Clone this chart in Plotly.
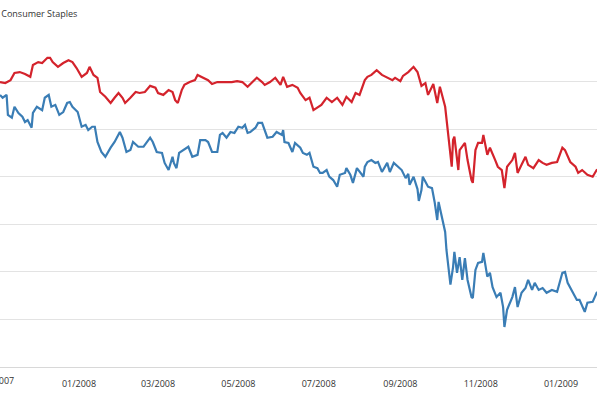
import plotly.graph_objects as go

# --- data -------------------------------------------------------------
staples_dates = [
    "2007-11-02", "2007-11-06", "2007-11-10", "2007-11-13", "2007-11-17", "2007-11-21", "2007-11-25",
    "2007-11-27", "2007-12-01", "2007-12-04", "2007-12-08", "2007-12-10", "2007-12-12", "2007-12-16",
    "2007-12-20", "2007-12-24", "2007-12-27", "2007-12-30", "2008-01-03", "2008-01-07", "2008-01-09",
    "2008-01-12", "2008-01-15", "2008-01-17", "2008-01-21", "2008-01-25", "2008-01-28", "2008-01-31",
    "2008-02-03", "2008-02-05", "2008-02-09", "2008-02-13", "2008-02-16", "2008-02-20", "2008-02-24",
    "2008-02-28", "2008-03-01", "2008-03-05", "2008-03-09", "2008-03-12", "2008-03-14", "2008-03-16",
    "2008-03-19", "2008-03-21", "2008-03-25", "2008-03-29", "2008-03-31", "2008-04-04", "2008-04-08",
    "2008-04-11", "2008-04-15", "2008-04-19", "2008-04-22", "2008-04-26", "2008-04-30", "2008-05-04",
    "2008-05-08", "2008-05-11", "2008-05-15", "2008-05-19", "2008-05-21", "2008-05-25", "2008-05-29",
    "2008-06-02", "2008-06-04", "2008-06-07", "2008-06-11", "2008-06-15", "2008-06-17", "2008-06-21",
    "2008-06-24", "2008-06-27", "2008-06-30", "2008-07-03", "2008-07-07", "2008-07-11", "2008-07-15",
    "2008-07-19", "2008-07-22", "2008-07-26", "2008-07-29", "2008-08-01", "2008-08-05", "2008-08-07",
    "2008-08-10", "2008-08-14", "2008-08-18", "2008-08-22", "2008-08-26", "2008-08-28", "2008-09-01",
    "2008-09-03", "2008-09-07", "2008-09-11", "2008-09-14", "2008-09-17", "2008-09-20", "2008-09-22",
    "2008-09-26", "2008-09-29", "2008-10-01", "2008-10-05", "2008-10-07", "2008-10-09", "2008-10-10",
    "2008-10-11", "2008-10-12", "2008-10-15", "2008-10-16", "2008-10-20", "2008-10-22", "2008-10-25",
    "2008-10-26", "2008-10-28", "2008-10-30", "2008-11-02", "2008-11-03", "2008-11-06", "2008-11-08",
    "2008-11-12", "2008-11-14", "2008-11-17", "2008-11-19", "2008-11-21", "2008-11-25", "2008-11-27",
    "2008-11-29", "2008-12-02", "2008-12-05", "2008-12-07", "2008-12-11", "2008-12-15", "2008-12-18",
    "2008-12-21", "2008-12-25", "2008-12-29", "2009-01-02", "2009-01-04", "2009-01-08", "2009-01-12",
    "2009-01-14", "2009-01-17", "2009-01-21", "2009-01-25", "2009-01-28", "2009-02-01",
]
staples_values = [
    99.9, 99.7, 100.3, 101.8, 102.0, 101.6, 101.0,
    103.5, 104.1, 103.9, 105.0, 105.0, 104.1, 103.1,
    103.9, 104.5, 104.1, 102.9, 101.0, 101.8, 103.1,
    101.4, 100.8, 97.8, 96.8, 95.5, 96.6, 97.6,
    96.6, 95.5, 96.6, 97.8, 97.6, 97.8, 99.1,
    98.7, 97.6, 97.2, 98.2, 97.8, 96.1, 95.5,
    98.2, 99.3, 99.9, 100.3, 101.4, 100.8, 100.3,
    99.5, 99.9, 99.9, 99.9, 99.9, 100.1, 99.9,
    98.9, 99.7, 100.8, 99.9, 99.3, 99.9, 100.8,
    99.3, 101.0, 98.9, 99.3, 98.7, 97.6, 96.1,
    96.6, 94.0, 94.5, 95.1, 96.6, 95.7, 96.6,
    95.1, 96.8, 95.7, 97.6, 97.2, 100.3, 101.0,
    101.4, 102.4, 101.4, 100.8, 100.3, 100.8, 100.1,
    101.2, 102.0, 103.1, 102.0, 99.1, 99.7, 97.2,
    99.5, 95.5, 98.9, 94.7, 89.8, 84.2, 82.1,
    87.7, 88.4, 81.4, 85.6, 87.1, 83.5, 79.3,
    78.7, 85.6, 87.1, 87.1, 88.8, 84.6, 86.1,
    83.5, 82.1, 81.4, 77.6, 82.1, 83.5, 85.0,
    80.8, 82.5, 84.2, 82.5, 81.8, 83.5, 82.9,
    82.5, 82.9, 83.1, 86.1, 85.6, 83.1, 82.1,
    80.8, 81.4, 80.4, 80.0, 81.4, 81.8,
]

sp500_dates = [
    "2007-11-02", "2007-11-04", "2007-11-07", "2007-11-08", "2007-11-11", "2007-11-13", "2007-11-16",
    "2007-11-19", "2007-11-21", "2007-11-23", "2007-11-26", "2007-11-27", "2007-11-30", "2007-12-04",
    "2007-12-06", "2007-12-09", "2007-12-11", "2007-12-14", "2007-12-17", "2007-12-20", "2007-12-23",
    "2007-12-25", "2007-12-27", "2007-12-31", "2008-01-03", "2008-01-06", "2008-01-08", "2008-01-11",
    "2008-01-13", "2008-01-15", "2008-01-18", "2008-01-21", "2008-01-25", "2008-01-28", "2008-02-01",
    "2008-02-03", "2008-02-06", "2008-02-09", "2008-02-11", "2008-02-15", "2008-02-19", "2008-02-22",
    "2008-02-24", "2008-02-26", "2008-02-29", "2008-03-04", "2008-03-06", "2008-03-09", "2008-03-12",
    "2008-03-13", "2008-03-15", "2008-03-17", "2008-03-20", "2008-03-24", "2008-03-27", "2008-03-31",
    "2008-04-02", "2008-04-06", "2008-04-08", "2008-04-11", "2008-04-15", "2008-04-17", "2008-04-19",
    "2008-04-22", "2008-04-25", "2008-04-28", "2008-05-01", "2008-05-04", "2008-05-06", "2008-05-08",
    "2008-05-10", "2008-05-14", "2008-05-16", "2008-05-19", "2008-05-23", "2008-05-27", "2008-05-30",
    "2008-06-03", "2008-06-04", "2008-06-05", "2008-06-08", "2008-06-11", "2008-06-13", "2008-06-17",
    "2008-06-19", "2008-06-22", "2008-06-24", "2008-06-27", "2008-06-30", "2008-07-02", "2008-07-04",
    "2008-07-07", "2008-07-09", "2008-07-12", "2008-07-15", "2008-07-17", "2008-07-21", "2008-07-22",
    "2008-07-25", "2008-07-27", "2008-07-30", "2008-08-03", "2008-08-04", "2008-08-05", "2008-08-07",
    "2008-08-10", "2008-08-13", "2008-08-15", "2008-08-18", "2008-08-22", "2008-08-24", "2008-08-27",
    "2008-08-30", "2008-09-02", "2008-09-05", "2008-09-07", "2008-09-08", "2008-09-11", "2008-09-14",
    "2008-09-15", "2008-09-17", "2008-09-18", "2008-09-22", "2008-09-25", "2008-09-27", "2008-09-29",
    "2008-09-30", "2008-10-03", "2008-10-05", "2008-10-06", "2008-10-08", "2008-10-09", "2008-10-11",
    "2008-10-12", "2008-10-14", "2008-10-16", "2008-10-18", "2008-10-20", "2008-10-22", "2008-10-25",
    "2008-10-26", "2008-10-28", "2008-10-30", "2008-11-02", "2008-11-03", "2008-11-06", "2008-11-08",
    "2008-11-10", "2008-11-13", "2008-11-16", "2008-11-18", "2008-11-19", "2008-11-21", "2008-11-25",
    "2008-11-27", "2008-11-29", "2008-12-02", "2008-12-05", "2008-12-07", "2008-12-10", "2008-12-12",
    "2008-12-15", "2008-12-18", "2008-12-21", "2008-12-25", "2008-12-29", "2009-01-02", "2009-01-04",
    "2009-01-06", "2009-01-10", "2009-01-13", "2009-01-15", "2009-01-19", "2009-01-21", "2009-01-25",
    "2009-01-28", "2009-02-01",
]
sp500_values = [
    97.2, 96.6, 97.2, 93.0, 92.4, 94.7, 93.4,
    92.6, 91.5, 91.9, 90.3, 93.4, 94.7, 94.0,
    96.6, 97.2, 94.7, 95.1, 93.0, 93.6, 95.5,
    95.7, 94.7, 93.6, 90.5, 90.9, 89.8, 90.5,
    90.5, 87.3, 85.2, 84.2, 86.1, 87.3, 89.4,
    88.2, 85.2, 85.6, 87.3, 86.3, 86.3, 87.3,
    88.2, 87.3, 85.2, 85.0, 82.9, 81.4, 84.2,
    82.9, 81.8, 85.0, 85.6, 86.3, 84.2, 84.6,
    87.7, 87.7, 87.3, 85.2, 85.2, 88.8, 89.2,
    88.2, 89.4, 89.2, 90.5, 90.3, 90.9, 89.2,
    89.4, 90.3, 91.3, 91.3, 88.2, 88.4, 89.4,
    88.8, 89.8, 87.3, 87.1, 85.2, 87.1, 86.1,
    85.0, 84.6, 85.0, 82.1, 81.8, 80.8, 80.8,
    81.4, 80.0, 79.3, 77.9, 80.4, 80.8, 81.8,
    80.4, 78.7, 81.8, 80.4, 80.0, 82.1, 83.1,
    83.5, 82.9, 83.1, 81.0, 82.9, 81.0, 82.9,
    82.1, 81.4, 79.7, 80.6, 78.3, 80.0, 77.4,
    74.9, 77.2, 80.0, 77.9, 77.6, 74.7, 70.9,
    74.7, 71.1, 68.4, 64.6, 60.4, 57.3, 61.0,
    64.2, 59.8, 63.1, 58.3, 62.9, 58.3, 54.7,
    54.5, 60.4, 61.9, 62.1, 64.0, 59.0, 59.8,
    56.8, 54.7, 55.6, 52.6, 48.4, 52.0, 54.7,
    56.8, 52.6, 55.6, 56.6, 58.3, 56.2, 57.7,
    56.2, 56.6, 55.6, 56.2, 55.8, 59.8, 60.0,
    57.7, 55.6, 54.1, 54.1, 51.6, 53.5, 53.7,
    55.6, 56.2,
]

y_ticks = [40, 50, 60, 70, 80, 90, 100, 110]
x_range = ["2007-11-02", "2009-01-28 07:00"]
title_text = "S&P Consumer Staples"
first_tick_label = "11/2007"   # tick just left of the visible window

FONT = "Open Sans"
TEXT_COLOR = "#333333"

# --- figure -----------------------------------------------------------
fig = go.Figure()
fig.add_trace(go.Scatter(
    x=staples_dates, y=staples_values, mode="lines", name="S&P Consumer Staples",
    line=dict(color="#d4232c", width=2.2),
))
fig.add_trace(go.Scatter(
    x=sp500_dates, y=sp500_values, mode="lines", name="S&P 500",
    line=dict(color="#3a7db5", width=2.2),
))

fig.update_layout(
    width=597, height=398,
    margin=dict(l=0, r=0, t=34, b=31),
    paper_bgcolor="white", plot_bgcolor="white",
    showlegend=False,
    font=dict(family=FONT, size=9, color=TEXT_COLOR),
    annotations=[
        dict(
            text=title_text, xref="paper", yref="paper",
            x=0, y=1, xanchor="right", yanchor="middle", xshift=79, yshift=21,
            showarrow=False, font=dict(family=FONT, size=9, color=TEXT_COLOR),
        ),
        dict(
            text=first_tick_label, xref="paper", yref="paper",
            x=0, y=0, xanchor="center", yanchor="middle", xshift=-3, yshift=-13,
            showarrow=False, font=dict(family=FONT, size=9, color=TEXT_COLOR),
        ),
    ],
)
fig.update_xaxes(
    type="date", range=x_range, dtick="M2", tick0="2008-01-01",
    tickformat="%m/%Y", showgrid=False, showline=True, linecolor="#d8d8d8",
    ticks="", ticklabelstandoff=8, tickfont=dict(family=FONT, size=9, color=TEXT_COLOR),
    zeroline=False,
)
fig.update_yaxes(
    range=[40, 110], tickvals=y_ticks, showticklabels=False,
    showgrid=True, gridcolor="#e3e3e3", gridwidth=1, zeroline=False,
)

fig.write_html(
    "out.html",
    config={"displayModeBar": False},
    post_script="document.body.style.margin='0';document.body.style.overflow='hidden';",
)
